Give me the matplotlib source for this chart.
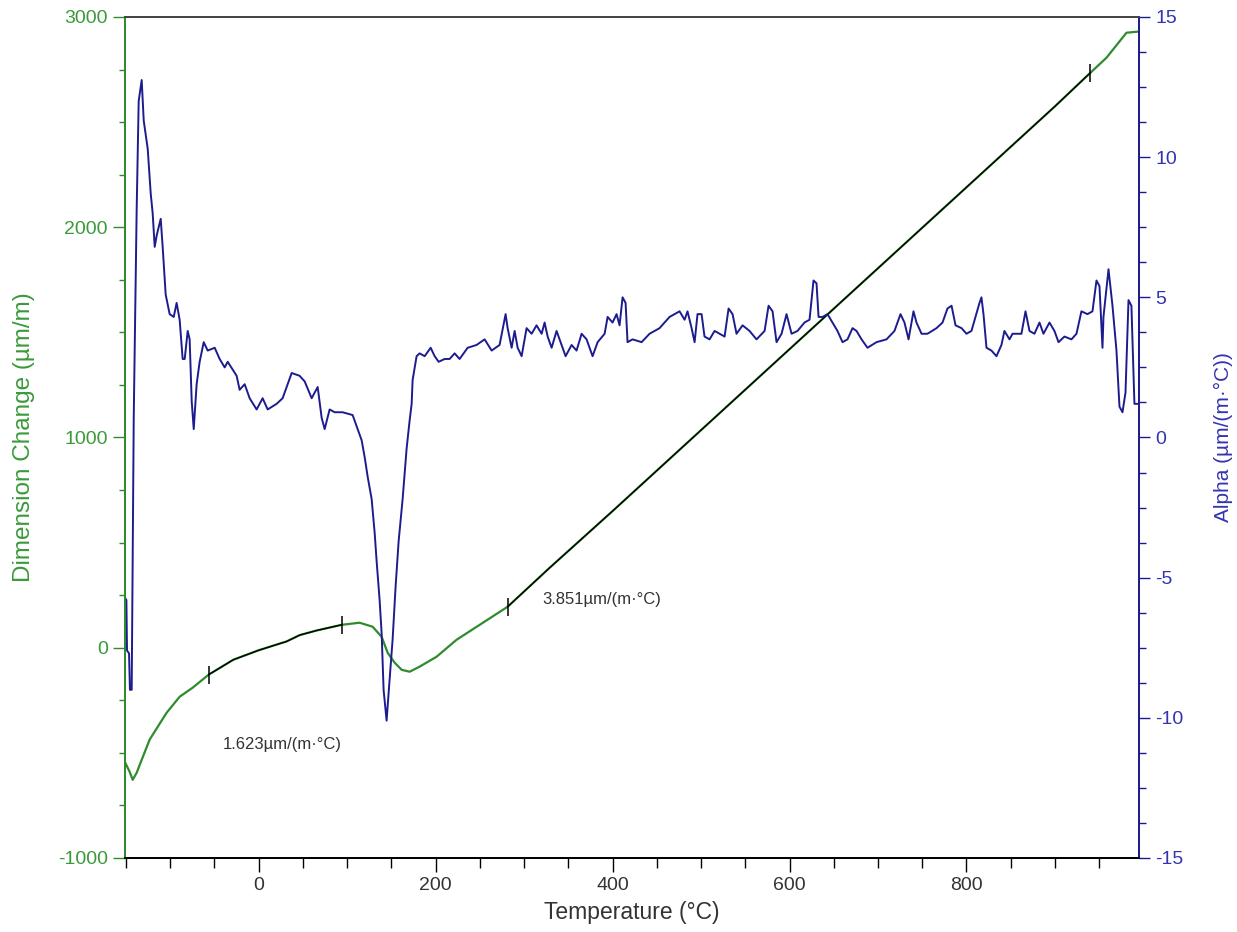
import matplotlib.pyplot as plt
from matplotlib.ticker import MultipleLocator

plt.rcParams['font.family'] = ['Liberation Sans', 'DejaVu Sans']
plt.rcParams['axes.unicode_minus'] = False

# Dimension change (left axis, um/m) vs temperature (C)
dim_T = [-151.4, -145.8, -142.4, -137.9, -132.2, -123.2, -114.1, -104.0, -89.3,
         -74.6, -56.5, -28.6, 0.0, 31.6, 46.3, 65.5, 93.8, 114.1, 128.8, 139.0,
         145.8, 153.7, 161.6, 170.6, 181.9, 201.0, 223.7, 281.4, 328.8, 400.0,
         500.0, 600.0, 700.0, 800.0, 900.0, 940.1, 958.2, 980.8, 993.2]
dim_v = [-542, -590, -628, -595, -533, -437, -376, -309, -233,
         -190, -128, -57, -12, 30, 60, 82, 109, 119, 100, 52,
         -24, -71, -105, -114, -90, -43, 38, 195, 380, 650,
         1035, 1420, 1805, 2190, 2575, 2735, 2806, 2925, 2930]

# temperature ranges of the two slope evaluations (black segments)
seg1 = (-56.5, 93.8)
seg2 = (281.4, 940.1)

# Alpha (right axis, um/(m C))
alpha_T = [-151.4, -149.5, -148.8, -146.5, -145.5, -143.5, -141.2, -139.0, -137.9, -135.6,
           -132.2, -129.9, -125.4, -122.0, -119.8, -117.5, -115.3, -110.7, -108.5, -105.1,
           -100.6, -96.0, -92.7, -89.3, -85.9, -83.6, -80.2, -78.0, -75.7, -73.4,
           -70.1, -66.7, -62.1, -57.6, -49.7, -44.1, -38.4, -35.0, -24.9, -21.5,
           -15.8, -10.2, -2.3, 4.5, 10.2, 20.3, 27.1, 37.3, 46.3, 52.0,
           59.9, 66.7, 71.2, 74.6, 80.2, 85.9, 94.9, 106.2, 110.7, 116.4,
           119.8, 123.2, 127.7, 131.1, 133.3, 136.7, 139.0, 141.2, 144.6, 146.9,
           151.4, 154.8, 158.2, 162.7, 167.2, 170.6, 172.9, 174.0, 178.5, 181.9,
           187.6, 194.4, 198.9, 203.4, 210.2, 215.8, 221.5, 227.1, 236.2, 246.3,
           255.4, 263.3, 272.3, 279.1, 281.4, 285.9, 289.3, 292.7, 297.2, 302.8,
           308.5, 314.1, 319.8, 323.2, 326.6, 331.1, 336.7, 342.4, 346.9, 353.7,
           359.3, 365.0, 370.6, 377.4, 383.1, 391.0, 394.4, 400.0, 404.5, 407.9,
           411.3, 414.7, 416.9, 422.6, 432.8, 441.8, 453.1, 464.4, 470.1, 475.7,
           481.4, 484.7, 489.3, 492.7, 496.0, 500.6, 503.9, 509.6, 515.3, 520.9,
           526.6, 531.1, 535.6, 540.1, 546.9, 554.8, 562.7, 571.8, 576.3, 580.8,
           585.3, 591.0, 596.6, 602.3, 609.0, 616.9, 622.6, 627.1, 630.5, 632.8,
           637.3, 642.9, 648.6, 654.2, 659.9, 665.5, 671.2, 675.7, 681.4, 688.1,
           698.3, 709.6, 718.6, 725.4, 729.9, 734.5, 740.1, 743.5, 749.2, 755.9,
           766.1, 772.9, 778.5, 783.1, 787.6, 794.4, 800.0, 805.6, 810.2, 814.7,
           816.9, 819.2, 822.6, 828.2, 833.9, 839.5, 842.9, 848.6, 852.0, 862.1,
           866.7, 871.2, 876.8, 882.5, 887.0, 893.8, 899.4, 904.0, 910.7, 918.6,
           924.3, 929.9, 936.7, 942.4, 946.9, 950.3, 953.7, 954.8, 958.2, 960.5,
           965.0, 969.5, 972.9, 976.3, 979.7, 983.1, 986.4, 989.8, 993.2]
alpha_v = [-5.7, -5.8, -7.6, -7.7, -9.0, -9.0, 0.7, 5.5, 8.1, 12.0,
           12.75, 11.3, 10.3, 8.7, 8.0, 6.8, 7.2, 7.8, 6.8, 5.1,
           4.4, 4.3, 4.8, 4.2, 2.8, 2.8, 3.8, 3.5, 1.3, 0.3,
           1.9, 2.7, 3.4, 3.1, 3.2, 2.8, 2.5, 2.7, 2.2, 1.7,
           1.9, 1.4, 1.0, 1.4, 1.0, 1.2, 1.4, 2.3, 2.2, 2.0,
           1.4, 1.8, 0.7, 0.3, 1.0, 0.9, 0.9, 0.8, 0.4, -0.1,
           -0.7, -1.4, -2.2, -3.4, -4.4, -5.8, -7.0, -9.0, -10.1, -9.1,
           -7.2, -5.3, -3.7, -2.2, -0.4, 0.6, 1.2, 2.05, 2.9, 3.0,
           2.9, 3.2, 2.9, 2.7, 2.8, 2.8, 3.0, 2.8, 3.2, 3.3,
           3.5, 3.1, 3.3, 4.4, 3.9, 3.2, 3.8, 3.2, 2.9, 3.9,
           3.7, 4.0, 3.7, 4.1, 3.6, 3.2, 3.8, 3.3, 2.9, 3.3,
           3.1, 3.7, 3.5, 2.9, 3.4, 3.7, 4.3, 4.1, 4.4, 4.0,
           5.0, 4.8, 3.4, 3.5, 3.4, 3.7, 3.9, 4.3, 4.4, 4.5,
           4.2, 4.5, 3.9, 3.4, 4.4, 4.4, 3.6, 3.5, 3.8, 3.7,
           3.6, 4.6, 4.4, 3.7, 4.0, 3.8, 3.5, 3.8, 4.7, 4.5,
           3.4, 3.7, 4.4, 3.7, 3.8, 4.1, 4.2, 5.6, 5.5, 4.3,
           4.3, 4.4, 4.1, 3.8, 3.4, 3.5, 3.9, 3.8, 3.5, 3.2,
           3.4, 3.5, 3.8, 4.4, 4.1, 3.5, 4.5, 4.1, 3.7, 3.7,
           3.9, 4.1, 4.6, 4.7, 4.0, 3.9, 3.7, 3.8, 4.3, 4.8,
           5.0, 4.4, 3.2, 3.1, 2.9, 3.3, 3.8, 3.5, 3.7, 3.7,
           4.5, 3.8, 3.7, 4.1, 3.7, 4.1, 3.8, 3.4, 3.6, 3.5,
           3.7, 4.5, 4.4, 4.5, 5.6, 5.4, 3.2, 4.3, 5.3, 6.0,
           4.7, 3.1, 1.1, 0.9, 1.6, 4.9, 4.7, 1.2, 1.2]

green = '#2e8b2e'
green_txt = '#3a9a3a'
blue = '#1c1c8f'
blue_txt = '#3434b0'
grey_txt = '#333333'

fig = plt.figure(figsize=(12.37, 9.32), dpi=100)
ax = fig.add_axes([0.1011, 0.0794, 0.8197, 0.9024])
ax2 = ax.twinx()

ax.plot(dim_T, dim_v, color=green, lw=1.6)

# black overlay on the fitted parts of the curve, with end marks
for lo, hi in (seg1, seg2):
    pts = [(t, v) for t, v in zip(dim_T, dim_v) if lo <= t <= hi]
    st = [p[0] for p in pts]
    sv = [p[1] for p in pts]
    ax.plot(st, sv, color='black', lw=1.0)
    ax.plot([st[0], st[-1]], [sv[0], sv[-1]], ls='none', color='black',
            marker='|', ms=13, mew=1.1)

ax.text(-41, -461, '1.623µm/(m·°C)', fontsize=12, color=grey_txt, va='center')
ax.text(321, 228, '3.851µm/(m·°C)', fontsize=12, color=grey_txt, va='center')

ax2.plot(alpha_T, alpha_v, color=blue, lw=1.4)

ax.set_xlim(-151, 995)
ax.set_ylim(-1000, 3000)
ax2.set_ylim(-15, 15)

ax.xaxis.set_major_locator(MultipleLocator(200))
ax.xaxis.set_minor_locator(MultipleLocator(50))
ax.yaxis.set_major_locator(MultipleLocator(1000))
ax.yaxis.set_minor_locator(MultipleLocator(250))
ax2.yaxis.set_major_locator(MultipleLocator(5))
ax2.yaxis.set_minor_locator(MultipleLocator(1.25))

ax.set_xlabel('Temperature (°C)', fontsize=16.5, color=grey_txt, labelpad=5)
ax.set_ylabel('Dimension Change (µm/m)', fontsize=17.5, color=green_txt, labelpad=16)
ax2.set_ylabel('Alpha (µm/(m·°C))', fontsize=15, color=blue_txt, labelpad=22)

ax.tick_params(axis='x', which='major', length=10, width=1, labelsize=14,
               colors='black', labelcolor=grey_txt, pad=4)
ax.tick_params(axis='x', which='minor', length=7, width=1, colors='black')
ax.tick_params(axis='y', which='major', length=9, width=1, labelsize=14,
               colors=green, labelcolor=green_txt)
ax.tick_params(axis='y', which='minor', length=4, width=1, colors=green)
ax2.tick_params(axis='y', which='major', length=8, width=1, labelsize=14,
                colors=blue, labelcolor=blue_txt)
ax2.tick_params(axis='y', which='minor', length=5, width=1, colors=blue)

for a in (ax, ax2):
    a.spines['left'].set_color(green)
    a.spines['right'].set_color(blue)
    a.spines['top'].set_color('#444444')
    a.spines['bottom'].set_color('black')
    for s in a.spines.values():
        s.set_linewidth(1.3)

fig.savefig('out.png', dpi=100)
